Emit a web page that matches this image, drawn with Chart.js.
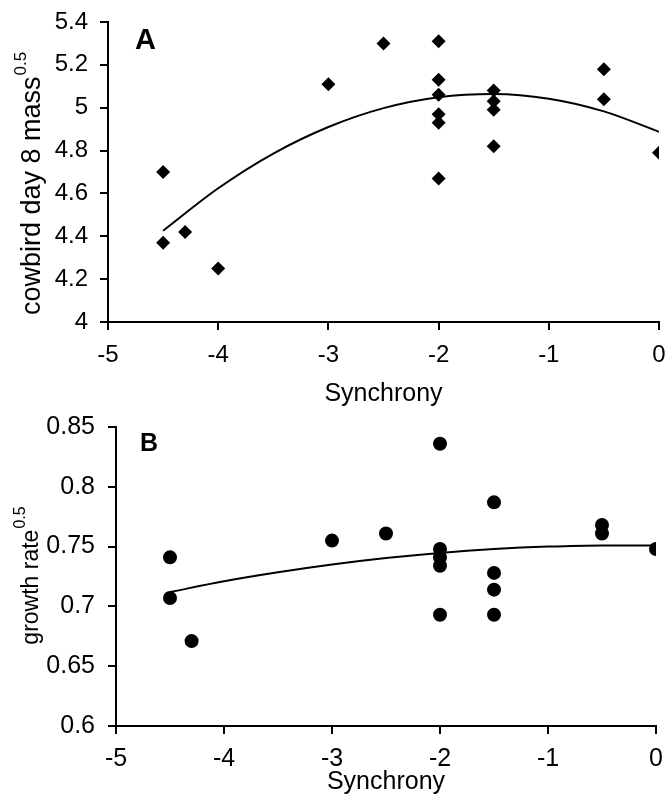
<!DOCTYPE html>
<html>
<head>
<meta charset="utf-8">
<script src="https://cdn.jsdelivr.net/npm/chart.js@4.4.1/dist/chart.umd.min.js"></script>
<style>
  body { margin: 0; background: #fff; }
  canvas { position: absolute; left: 0; }
</style>
</head>
<body>
<canvas id="chartA" width="666" height="410" style="top:0"></canvas>
<canvas id="chartB" width="666" height="402" style="top:410px"></canvas>
<script>
// --- panel A: cowbird day 8 mass^0.5 vs synchrony
var massX = [-4.5, -4.5, -4.3, -4, -3, -2.5, -2, -2, -2, -2, -2, -2, -1.5, -1.5, -1.5, -1.5, -0.5, -0.5, 0];
var massY = [4.70, 4.37, 4.42, 4.25, 5.11, 5.30, 5.31, 5.13, 5.06, 4.97, 4.93, 4.67, 5.08, 5.03, 4.99, 4.82, 5.18, 5.04, 4.79];
// fitted curve
var massFitX = [-4.5, -4, -3.5, -3, -2.5, -2, -1.5, -1, -0.5, 0];
var massFitY = [4.426, 4.624, 4.786, 4.910, 4.998, 5.049, 5.064, 5.042, 4.983, 4.888];
var massTicks = [4, 4.2, 4.4, 4.6, 4.8, 5, 5.2, 5.4];

// --- panel B: growth rate^0.5 vs synchrony
var growthX = [-4.5, -4.5, -4.3, -3, -2.5, -2, -2, -2, -2, -2, -1.5, -1.5, -1.5, -1.5, -0.5, -0.5, 0];
var growthY = [0.741, 0.707, 0.671, 0.755, 0.761, 0.836, 0.748, 0.741, 0.734, 0.693, 0.787, 0.728, 0.714, 0.693, 0.768, 0.761, 0.748];
var growthFitX = [-4.5, -4, -3.5, -3, -2.5, -2, -1.5, -1, -0.5, 0];
var growthFitY = [0.712, 0.721, 0.7285, 0.735, 0.7404, 0.7447, 0.7479, 0.750, 0.751, 0.751];
var growthTicks = [0.6, 0.65, 0.7, 0.75, 0.8, 0.85];

var xTicks = [-5, -4, -3, -2, -1, 0];

var FONT = 'Liberation Sans, Arial, sans-serif';

function toPoints(xs, ys) {
    return xs.map(function (x, i) { return { x: x, y: ys[i] }; });
}

// draws the rotated y title with a superscript, and the panel letter
var panelText = {
    id: 'panelText',
    afterDraw: function (chart, args, opts) {
        var c = chart.ctx;
        c.save();
        c.fillStyle = '#000';
        // panel letter
        c.font = 'bold ' + opts.letterSize + 'px ' + FONT;
        c.textBaseline = 'alphabetic';
        c.textAlign = 'left';
        c.fillText(opts.letter, opts.letterX, opts.letterY);
        // y title
        c.font = opts.titleSize + 'px ' + FONT;
        var w1 = c.measureText(opts.title).width;
        c.font = opts.supSize + 'px ' + FONT;
        var w2 = c.measureText(opts.sup).width;
        var start = opts.titleCenter + (w1 + w2) / 2;
        c.translate(opts.titleBase, start);
        c.rotate(-Math.PI / 2);
        c.font = opts.titleSize + 'px ' + FONT;
        c.fillText(opts.title, 0, 0);
        c.font = opts.supSize + 'px ' + FONT;
        c.fillText(opts.sup, w1 + 1, -opts.supRaise);
        c.restore();
    }
};

function makeChart(el, cfg) {
    return new Chart(el, {
        type: 'scatter',
        data: {
            datasets: [{
                data: toPoints(cfg.fitX, cfg.fitY),
                showLine: true,
                borderColor: '#000',
                borderWidth: 2,
                pointRadius: 0,
                tension: 0.4,
                cubicInterpolationMode: 'monotone'
            }, {
                data: toPoints(cfg.x, cfg.y),
                pointStyle: cfg.pointStyle,
                pointRadius: cfg.pointRadius,
                backgroundColor: '#000',
                borderColor: '#000',
                borderWidth: 0
            }]
        },
        options: {
            responsive: false,
            animation: false,
            layout: { padding: { left: 0, right: cfg.padRight, top: cfg.padTop, bottom: 0 } },
            plugins: {
                legend: { display: false },
                tooltip: { enabled: false },
                panelText: cfg.text
            },
            scales: {
                x: {
                    type: 'linear',
                    min: -5, max: 0,
                    afterBuildTicks: function (s) { s.ticks = xTicks.map(function (v) { return { value: v }; }); },
                    afterFit: function (s) {
                        s.height = cfg.xHeight;
                        s.paddingLeft = 0;
                        s.paddingRight = 0;
                    },
                    ticks: { color: '#000', padding: cfg.xPad, font: { family: FONT, size: cfg.tickSize } },
                    grid: { drawOnChartArea: false, drawTicks: true, tickLength: 8, color: '#000', lineWidth: 2 },
                    border: { color: '#000', width: 2 },
                    title: { display: true, text: 'Synchrony', color: '#000', font: { family: FONT, size: 25 }, padding: { top: 0, bottom: cfg.titlePad } }
                },
                y: {
                    type: 'linear',
                    min: cfg.ticks[0], max: cfg.ticks[cfg.ticks.length - 1],
                    afterBuildTicks: function (s) { s.ticks = cfg.ticks.map(function (v) { return { value: v }; }); },
                    afterFit: function (s) {
                        s.width = cfg.yWidth;
                        s.paddingTop = 0;
                        s.paddingBottom = 0;
                    },
                    ticks: {
                        color: '#000', padding: cfg.yPad, font: { family: FONT, size: cfg.tickSize },
                        callback: function (v) { return String(v); }
                    },
                    grid: { drawOnChartArea: false, drawTicks: true, tickLength: 8, color: '#000', lineWidth: 2 },
                    border: { color: '#000', width: 2 }
                }
            }
        },
        plugins: [panelText]
    });
}

makeChart(document.getElementById('chartA'), {
    x: massX, y: massY, fitX: massFitX, fitY: massFitY, ticks: massTicks,
    pointStyle: 'rectRot', pointRadius: 7,
    padTop: 22, padRight: 5, yWidth: 108, xHeight: 88,
    tickSize: 24, xPad: 11, yPad: 12, titlePad: 1,
    text: {
        letter: 'A', letterSize: 29, letterX: 135, letterY: 49,
        title: 'cowbird day 8 mass', sup: '0.5', titleSize: 27, supSize: 17, supRaise: 14,
        titleCenter: 184, titleBase: 40
    }
});

makeChart(document.getElementById('chartB'), {
    x: growthX, y: growthY, fitX: growthFitX, fitY: growthFitY, ticks: growthTicks,
    pointStyle: 'circle', pointRadius: 7,
    padTop: 17, padRight: 10, yWidth: 116, xHeight: 86,
    tickSize: 25, xPad: 10, yPad: 13, titlePad: 15,
    text: {
        letter: 'B', letterSize: 25, letterX: 140, letterY: 41,
        title: 'growth rate', sup: '0.5', titleSize: 23, supSize: 16, supRaise: 13,
        titleCenter: 166, titleBase: 38
    }
});
</script>
</body>
</html>
